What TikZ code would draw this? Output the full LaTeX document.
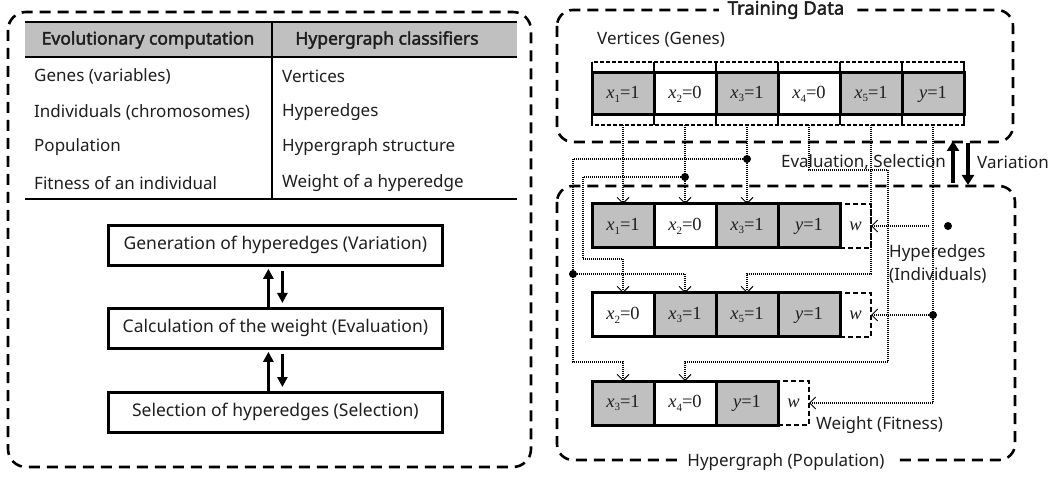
\documentclass[tikz,border=0pt]{standalone}
\usepackage{fontspec}
\setmainfont{Noto Sans}[BoldFont={Noto Sans}, BoldFeatures={FakeBold=2.2}]
\newfontfamily\tms{Liberation Serif}
\usetikzlibrary{arrows.meta,calc}
\definecolor{cgray}{RGB}{192,192,192}
\definecolor{ink}{RGB}{30,30,30}
\newcommand\xv[2]{{\tms\textit{x}\raisebox{-0.45ex}{\fontsize{11}{11}\selectfont #1}=#2}}
\newcommand\yv[1]{{\tms\textit{y}=#1}}
\begin{document}
\begin{tikzpicture}[x=1pt,y=-1pt,
  font=\fontsize{17}{20}\selectfont, text=ink,
  panel/.style={draw, line width=2.6pt, dash pattern=on 11pt off 7pt, rounded corners=18pt},
  cellg/.style={fill=cgray, minimum width=62pt, minimum height=44pt, inner sep=0pt, outer sep=0pt, anchor=north west, font=\fontsize{18.5}{18.5}\selectfont},
  cellw/.style={cellg, fill=white},
  cellframe/.style={line width=3pt, line join=miter},
  wcell/.style={draw, line width=2.8pt, dash pattern=on 5pt off 3pt, minimum width=31pt, minimum height=44pt, inner sep=0pt, outer sep=0pt, anchor=north west, font=\tms\itshape\fontsize{18.5}{18.5}\selectfont},
  conn/.style={line width=1.1pt, dash pattern=on 1pt off 1pt, -{Straight Barb[length=6pt,width=12pt,line width=1pt]}},
  jdot/.style={circle, fill=black, inner sep=0pt, minimum size=8pt},
  pbox/.style={draw, line width=2.8pt, minimum width=334pt, minimum height=40pt, anchor=north west, inner sep=0pt, font=\fontsize{17.5}{20}\selectfont},
  bigarrow/.style={line width=2.6pt, -{Triangle[length=10pt,width=10pt]}},
  lbl/.style={inner sep=0pt},
]
\useasboundingbox (0,0) rectangle (1055,478);

% ---------------- left panel ----------------
\draw[panel] (8,12) rectangle (531,467);
\fill[cgray] (25,22) rectangle (517,57);
\draw[line width=1.5pt] (25,22) -- (517,22);
\draw[line width=1.5pt] (25,57) -- (517,57);
\draw[line width=1.5pt] (25,199) -- (517,199);
\draw[line width=1.5pt] (272,22) -- (272,199);
\node[lbl, font=\bfseries\fontsize{17.5}{20}\selectfont] (h1) at (148,40) {Evolutionary computation};
\node[lbl, font=\bfseries\fontsize{17.5}{20}\selectfont] (h2) at (387,40) {Hypergraph classifiers};
\node[lbl, anchor=west] (l1) at (34,76) {Genes (variables)};
\node[lbl, anchor=west] (l2) at (34,112) {Individuals (chromosomes)};
\node[lbl, anchor=west] (l3) at (34,147) {Population};
\node[lbl, anchor=west] (l4) at (34,183) {Fitness of an individual};
\node[lbl, anchor=west] (r1) at (282,76) {Vertices};
\node[lbl, anchor=west] (r2) at (282,112) {Hyperedges};
\node[lbl, anchor=west] (r3) at (282,147) {Hypergraph structure};
\node[lbl, anchor=west] (r4) at (282,183) {Weight of a hyperedge};

\node[pbox] (p1) at (107,224) {Generation of hyperedges (Variation)};
\node[pbox] (p2) at (107,307) {Calculation of the weight (Evaluation)};
\node[pbox] (p3) at (107,391) {Selection of hyperedges (Selection)};
\draw[bigarrow] ([xshift=-7pt]p2.north) -- ([xshift=-7pt,yshift=-2pt]p1.south);
\draw[bigarrow] ([xshift=7pt,yshift=-4pt]p1.south) -- ([xshift=7pt,yshift=4pt]p2.north);
\draw[bigarrow] ([xshift=-7pt]p3.north) -- ([xshift=-7pt,yshift=-2pt]p2.south);
\draw[bigarrow] ([xshift=7pt,yshift=-4pt]p2.south) -- ([xshift=7pt,yshift=4pt]p3.north);

% ---------------- right panel: training data ----------------
\draw[panel, rounded corners=16pt] (557,10) rectangle (1013,142);
\node[fill=white, inner xsep=9pt, inner ysep=1pt, font=\bfseries\fontsize{18.5}{20}\selectfont] (td) at (786,10) {Training Data};
\node[lbl, anchor=west] (vg) at (597,40) {Vertices (Genes)};

\draw[line width=1.4pt, dash pattern=on 4pt off 2pt] (592,62) rectangle (964,125);
\foreach \xx in {592,654,716,778,840,902,964} \draw[line width=1.8pt] (\xx,62) -- (\xx,125);
\node[cellg, minimum height=42pt] (t1) at (592,73) {\xv{1}{1}};
\node[cellw, minimum height=42pt] (t2) at (654,73) {\xv{2}{0}};
\node[cellg, minimum height=42pt] (t3) at (716,73) {\xv{3}{1}};
\node[cellw, minimum height=42pt] (t4) at (778,73) {\xv{4}{0}};
\node[cellg, minimum height=42pt] (t5) at (840,73) {\xv{5}{1}};
\node[cellg, minimum height=42pt] (t6) at (902,73) {\yv{1}};
\foreach \n in {t1,t2,t3,t4,t5,t6} \draw[cellframe] (\n.north west) rectangle (\n.south east);

% ---------------- right panel: hypergraph ----------------
\draw[panel, rounded corners=16pt] (557,186) rectangle (1015,460);
\node[fill=white, inner xsep=10pt, inner ysep=2pt] (hp) at (786,462) {Hypergraph (Population)};

\node[lbl, anchor=east] (es) at (946,162) {Evaluation, Selection};
\node[lbl, anchor=west] (va) at (977,162) {Variation};
\coordinate (ua) at (953,183);
\coordinate (ub) at (953,141);
\coordinate (da) at (968,143);
\coordinate (db) at (968,185);
\draw[line width=3.4pt, -{Triangle[length=10pt,width=12pt]}] (ua) -- (ub);
\draw[line width=3.4pt, -{Triangle[length=10pt,width=12pt]}] (da) -- (db);

\node[cellg] (a1) at (592,204) {\xv{1}{1}};
\node[cellw] (a2) at (654,204) {\xv{2}{0}};
\node[cellg] (a3) at (716,204) {\xv{3}{1}};
\node[cellg] (a4) at (778,204) {\yv{1}};
\node[wcell] (aw) at (840,204) {w};

\node[cellw] (b1) at (592,293) {\xv{2}{0}};
\node[cellg] (b2) at (654,293) {\xv{3}{1}};
\node[cellg] (b3) at (716,293) {\xv{5}{1}};
\node[cellg] (b4) at (778,293) {\yv{1}};
\node[wcell] (bw) at (840,293) {w};

\node[cellg] (c1) at (592,381) {\xv{3}{1}};
\node[cellw] (c2) at (654,381) {\xv{4}{0}};
\node[cellg] (c3) at (716,381) {\yv{1}};
\node[wcell] (cw) at (778,381) {w};
\foreach \n in {a1,a2,a3,a4,b1,b2,b3,b4,c1,c2,c3} \draw[cellframe] (\n.north west) rectangle (\n.south east);

\node[lbl, anchor=west] (he1) at (889,253) {Hyperedges};
\node[lbl, anchor=west] (he2) at (889,275) {(Individuals)};
\node[lbl, anchor=west] (wf) at (816,425) {Weight (Fitness)};

% connectors
\draw[conn] ($(t1.south)+(0,10)$) -- (a1.north);
\draw[conn] ($(t2.south)+(0,10)$) -- (a2.north);
\node[jdot] (d2) at ($(t2.south)+(0,62)$) {};
\draw[conn] (d2.center) -| (583,259) -| (b1.north);
\draw[conn] ($(t3.south)+(0,10)$) -- (a3.north);
\node[jdot] (d3) at ($(t3.south)+(0,44)$) {};
\draw[conn] (d3.center) -| (573,362) -| (c1.north);
\node[jdot] (d3b) at (573,274) {};
\draw[conn] (d3b.center) -| (b2.north);
\draw[conn] ($(t4.south)+(0,10)$) -- ($(t4.south)+(0,55)$) -| (888,362) -| (c2.north);
\draw[conn] ($(t5.south)+(0,10)$) |- ($(b3.north)+(0,-19)$) -- (b3.north);
\draw[conn] ($(t6.south)+(0,10)$) |- (cw.east);
\node[jdot] (d6) at (t6.south |- bw.east) {};
\draw[conn] (d6.center) -- (bw.east);
\node[jdot] (d7) at ($(t6.south |- aw.east)+(15,0)$) {};
\draw[conn] ($(t6.south |- aw.east)+(-4,0)$) -- (aw.east);
\end{tikzpicture}
\end{document}
